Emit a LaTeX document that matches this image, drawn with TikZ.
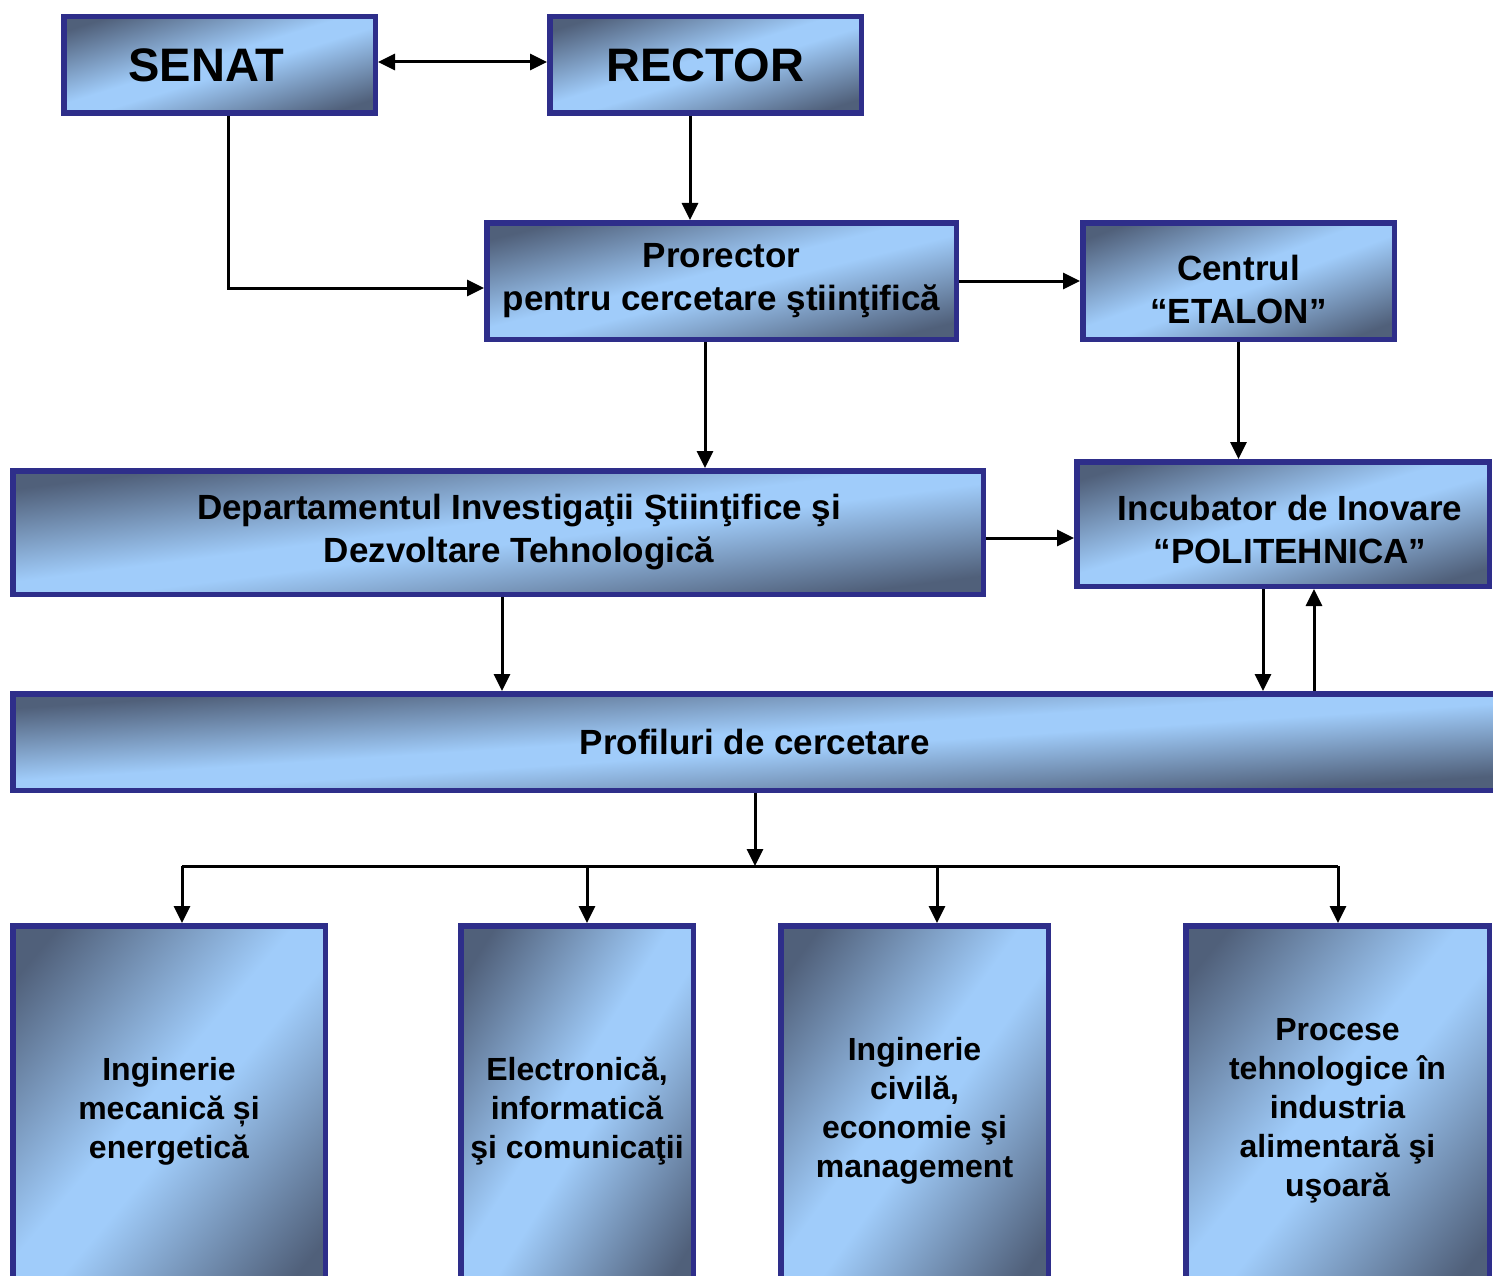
\documentclass[tikz,border=0pt]{standalone}
\usepackage{fontspec}
\setmainfont{Liberation Sans}
\usetikzlibrary{arrows.meta}
\definecolor{boxline}{RGB}{46,46,138}
% light (160,204,250) in the band, dark (80,96,122) at two corners
\pgfdeclarefunctionalshading{boxgrad}{\pgfpoint{-50bp}{-50bp}}{\pgfpoint{50bp}{50bp}}{}{
  exch sub 50 div abs 0.1 sub 0.75 div
  dup 0 lt {pop 0} if dup 1 gt {pop 1} if
  dup -0.313 mul 0.627 add exch
  dup -0.424 mul 0.8 add exch
  -0.502 mul 0.98 add
}
\begin{document}
\begin{tikzpicture}[x=1pt, y=-1pt, >={Triangle[length=17pt,width=16pt]}, line width=3pt,
  unit/.style={draw=boxline, line width=5.5pt, shade, shading=boxgrad, align=center, inner sep=0pt, font=\bfseries\fontsize{35}{43}\selectfont},
  big/.style={font=\bfseries\fontsize{47}{56}\selectfont},
  small/.style={font=\bfseries\fontsize{32}{39}\selectfont},
  lbl/.style={align=center, font=\bfseries\fontsize{35}{43}\selectfont}]
\useasboundingbox (0,0) rectangle (1493,1276);
\clip (0,0) rectangle (1493,1276);
\node[unit, big, minimum width=311.5pt, minimum height=96.5pt, label={[big, xshift=-13pt]center:SENAT}] (senat) at (219.5,65) {};
\node[unit, big, minimum width=311.5pt, minimum height=96.5pt] (rector) at (705.5,65) {RECTOR};
\node[unit, minimum width=469.5pt, minimum height=116.5pt] (prorector) at (721.5,281) {Prorector\\pentru cercetare ştiinţifică};
\node[unit, minimum width=311.5pt, minimum height=116.5pt, label={[lbl, yshift=-8pt]center:Centrul\\“ETALON”}] (etalon) at (1238.5,281) {};
\node[unit, minimum width=970.5pt, minimum height=123.5pt, label={[lbl, xshift=21pt]center:Departamentul Investigaţii Ştiinţifice şi\\Dezvoltare Tehnologică}] (dept) at (498,532.5) {};
\node[unit, minimum width=412.5pt, minimum height=124.5pt, label={[lbl, xshift=7pt, yshift=-5pt]center:Incubator de Inovare\\“POLITEHNICA”}] (incub) at (1283,524) {};
\node[unit, minimum width=1484.5pt, minimum height=96.5pt] (profil) at (755,742) {Profiluri de cercetare};
\node[unit, small, minimum width=312.5pt, minimum height=370.5pt] (mec) at (169,1111) {Inginerie\\mecanică și\\energetică};
\node[unit, small, minimum width=232.5pt, minimum height=370.5pt] (elec) at (577,1111) {Electronică,\\informatică\\şi comunicaţii};
\node[unit, small, minimum width=267.5pt, minimum height=370.5pt] (civ) at (914.5,1111) {Inginerie\\civilă,\\economie şi\\management};
\node[unit, small, minimum width=303.5pt, minimum height=370.5pt] (alim) at (1337.5,1111) {Procese\\tehnologice în\\industria\\alimentară şi\\uşoară};
\coordinate (hub) at (755,866);
\coordinate (bus1) at (182,866);
\coordinate (bus2) at (587,866);
\coordinate (bus3) at (937,866);
\coordinate (bus4) at (1338,866);
% links
\draw[<->] ([yshift=3pt]senat.east) -- ([yshift=3pt]rector.west);
\draw[->] ([xshift=-15.5pt]rector.south) -- ([xshift=-15.5pt]rector.south |- prorector.north);
\draw[->] ([xshift=8.5pt]senat.south) |- ([yshift=-7pt]prorector.west);
\draw[->] (prorector) -- (etalon);
\draw[->] (etalon.south) -- (etalon.south |- incub.north);
\draw[->] ([xshift=-16.5pt]prorector.south) -- ([xshift=-16.5pt]prorector.south |- dept.north);
\draw[->] ([yshift=-5.5pt]dept.east) -- ([yshift=-5.5pt]dept.east -| incub.west);
\draw[->] ([xshift=4pt]dept.south) -- ([xshift=4pt]dept.south |- profil.north);
\draw[->] ([xshift=-20pt]incub.south) -- ([xshift=-20pt]incub.south |- profil.north);
\draw[->] ([xshift=31pt]incub.south |- profil.north) -- ([xshift=31pt]incub.south);
\draw[->] (profil.south) -- (hub);
\draw (bus1) -- (bus4);
\foreach \b/\n in {1/mec,2/elec,3/civ,4/alim}
  \draw[->] (bus\b) -- (bus\b |- \n.north);
\end{tikzpicture}
\end{document}
